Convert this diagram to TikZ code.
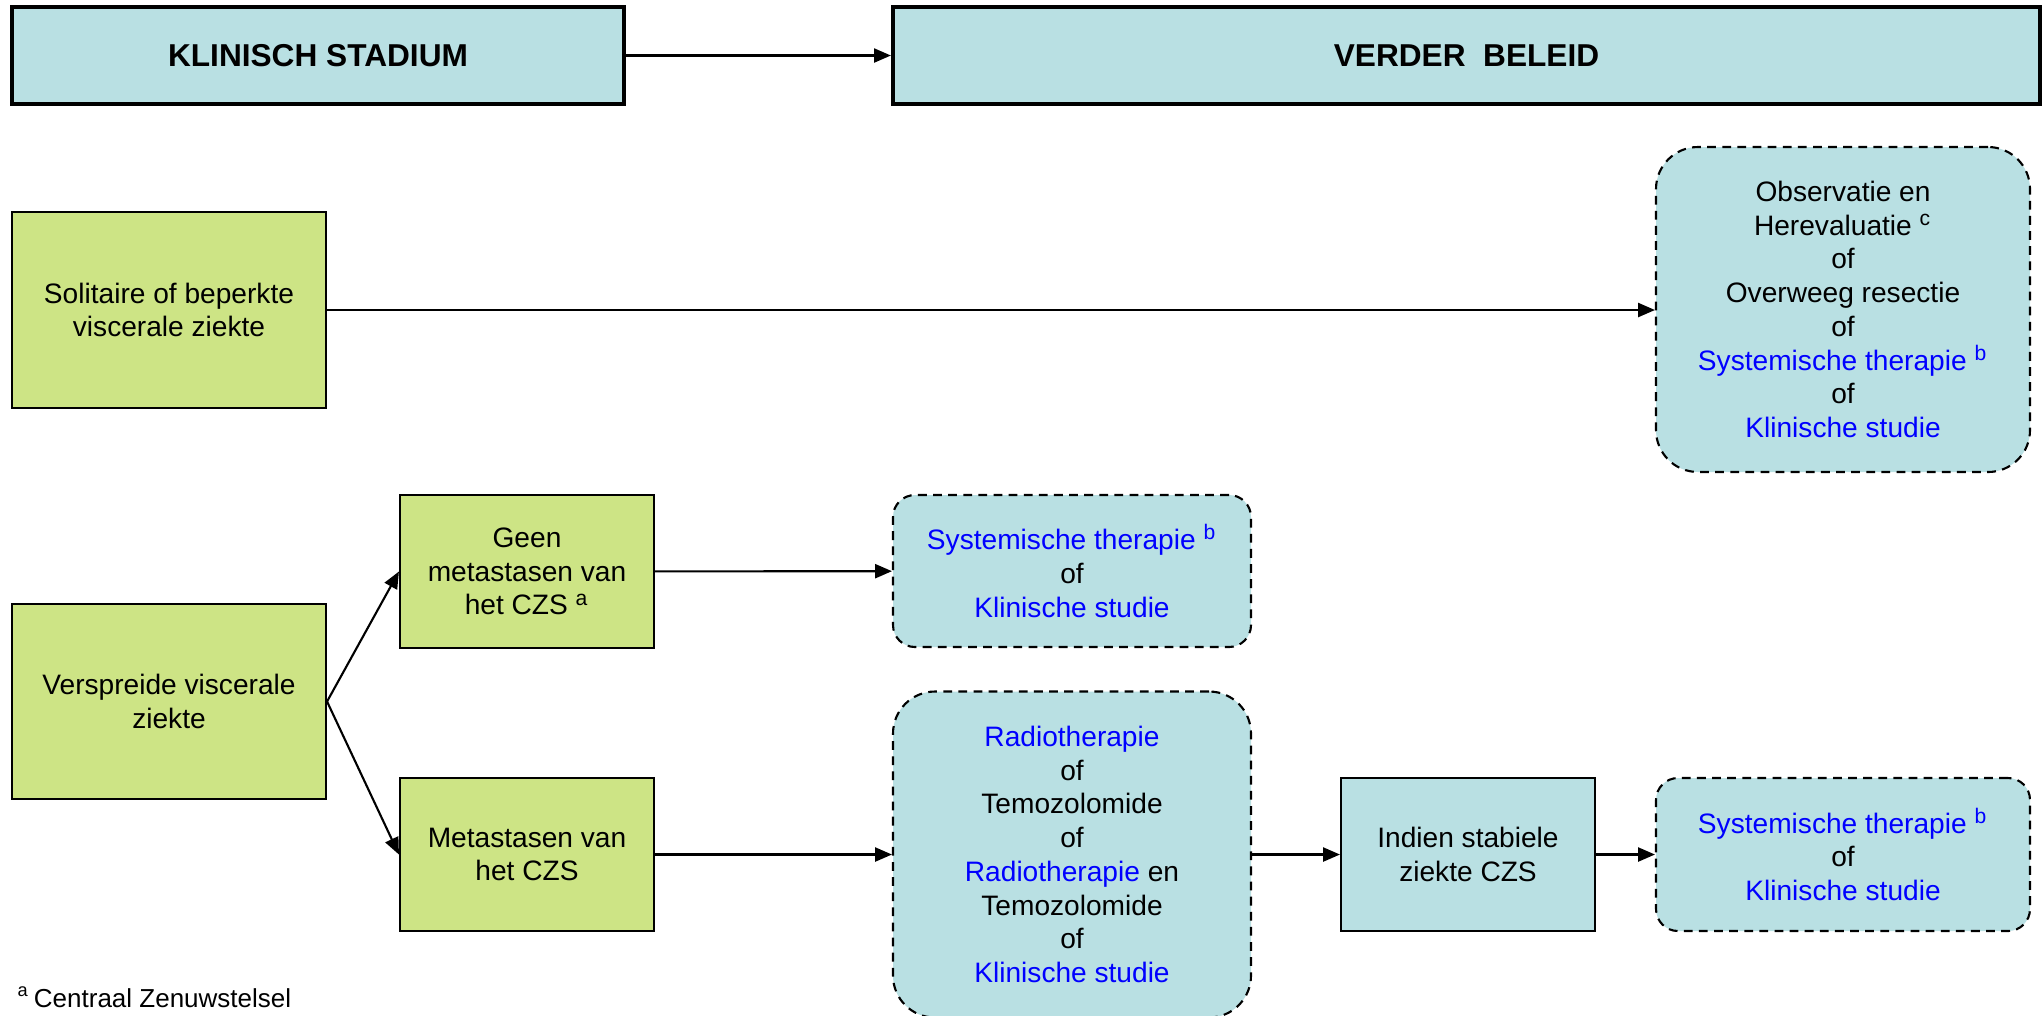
\documentclass[tikz,border=0pt]{standalone}
\usepackage{fontspec}
\setmainfont{Liberation Sans}
\usetikzlibrary{arrows.meta}
\definecolor{boxblue}{RGB}{185,224,227}
\definecolor{boxgreen}{RGB}{205,228,133}
\begin{document}
\begin{tikzpicture}[
    font=\fontsize{8}{9.6}\selectfont,
    >={Triangle[length=4.8pt,width=4pt]},
    head/.style={draw, line width=1.2pt, fill=boxblue, minimum height=0.97cm,
        font=\fontsize{9}{11}\selectfont\bfseries},
    stage/.style={draw, line width=0.6pt, fill=boxgreen, align=center},
    plan/.style={draw, line width=0.6pt, fill=boxblue, align=center},
    option/.style={draw, line width=0.6pt, fill=boxblue, align=center,
        dash pattern=on 2.5pt off 1.8pt, rounded corners=0.22cm},
    link/.style={->, line width=0.6pt}
]
    \useasboundingbox (0,0) rectangle (20.44,-10.15);

    % kopjes
    \node[head, minimum width=6.12cm] (stadium) at (3.18,-0.555) {KLINISCH STADIUM};
    \node[head, minimum width=11.47cm] (beleid) at (14.665,-0.555) {VERDER\ \ BELEID};

    % klinisch stadium
    \node[stage, minimum width=3.14cm, minimum height=1.96cm] (solitaire) at (1.69,-3.10)
        {Solitaire of beperkte\\viscerale ziekte};
    \node[stage, minimum width=3.14cm, minimum height=1.95cm] (verspreid) at (1.69,-7.015)
        {Verspreide viscerale\\ziekte};
    \node[stage, minimum width=2.54cm, minimum height=1.53cm] (geencns) at (5.27,-5.715)
        {Geen\\metastasen van\\het CZS \textsuperscript{a}};
    \node[stage, minimum width=2.54cm, minimum height=1.53cm] (metacns) at (5.27,-8.545)
        {Metastasen van\\het CZS};

    % beleid
    \node[option, rounded corners=0.42cm, minimum width=3.74cm, minimum height=3.25cm] (observ) at (18.43,-3.095)
        {Observatie en\\Herevaluatie \textsuperscript{c}\\of\\Overweeg resectie\\of\\
         \textcolor{blue}{Systemische therapie \textsuperscript{b}}\\of\\\textcolor{blue}{Klinische studie}};
    \node[option, minimum width=3.58cm, minimum height=1.52cm] (systA) at (10.72,-5.71)
        {\textcolor{blue}{Systemische therapie \textsuperscript{b}}\\of\\\textcolor{blue}{Klinische studie}};
    \node[option, rounded corners=0.42cm, minimum width=3.58cm, minimum height=3.26cm] (radio) at (10.72,-8.545)
        {\textcolor{blue}{Radiotherapie}\\of\\Temozolomide\\of\\\textcolor{blue}{Radiotherapie} en\\
         Temozolomide\\of\\\textcolor{blue}{Klinische studie}};
    \node[plan, minimum width=2.54cm, minimum height=1.53cm] (stabiel) at (14.68,-8.545)
        {Indien stabiele\\ziekte CZS};
    \node[option, minimum width=3.74cm, minimum height=1.53cm] (systB) at (18.43,-8.545)
        {\textcolor{blue}{Systemische therapie \textsuperscript{b}}\\of\\\textcolor{blue}{Klinische studie}};

    % pijlen
    \draw[link] (stadium) -- (beleid);
    \draw[link] (solitaire.east) -- (solitaire.east -| observ.west);
    \draw[link] (verspreid.east) -- (geencns.west);
    \draw[link] (verspreid.east) -- (metacns.west);
    \draw[link] (geencns) -- (systA);
    \draw[link] (metacns) -- (radio);
    \draw[link] (radio) -- (stabiel);
    \draw[link] (stabiel) -- (systB);

    \node[anchor=base west, inner sep=0pt, font=\fontsize{7.4}{9}\selectfont] (voetnoot) at (0.17,-10.07)
        {\textsuperscript{a}\,Centraal Zenuwstelsel};
\end{tikzpicture}
\end{document}
